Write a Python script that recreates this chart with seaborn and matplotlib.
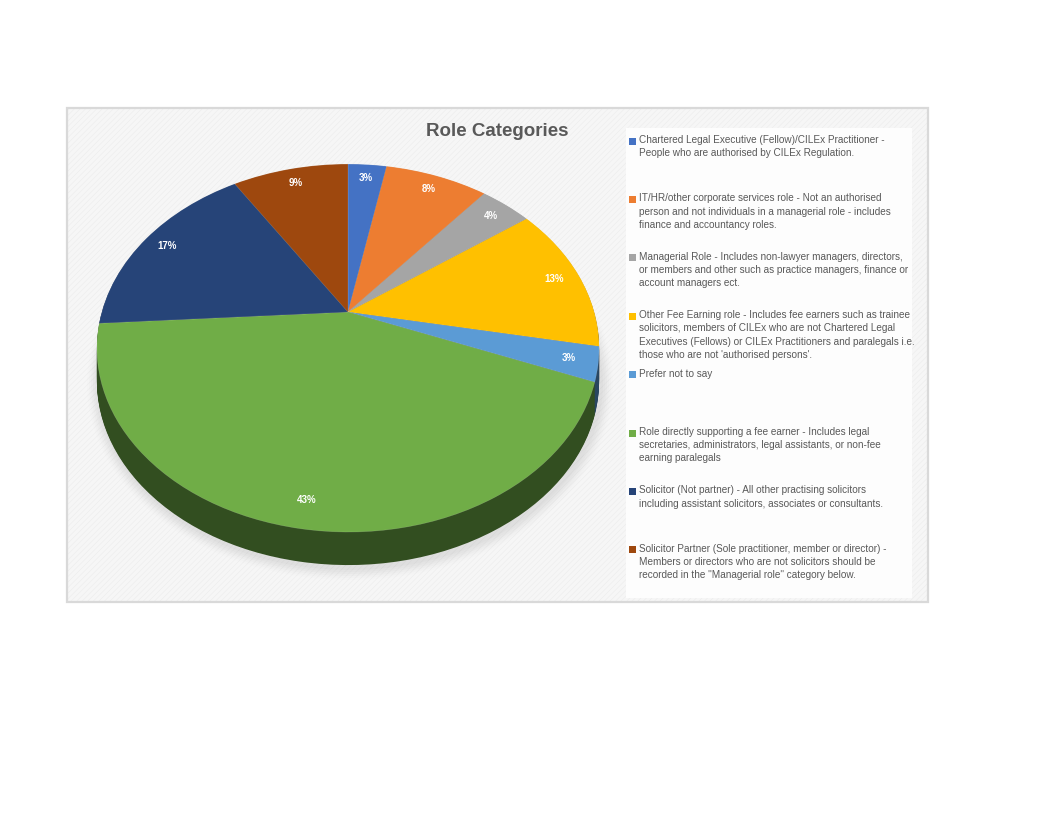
#!/usr/bin/env python3
"""
Role Categories - tilted (perspective) pie chart with wrapped legend
"""

import matplotlib
matplotlib.use("Agg")
import matplotlib.pyplot as plt
from matplotlib.patches import Rectangle, Ellipse
from matplotlib.transforms import Transform
import seaborn as sns
import numpy as np

# ---- data -----------------------------------------------------------------
categories = [
    "Chartered Legal Executive (Fellow)/CILEx Practitioner -\n"
    "People who are authorised by CILEx Regulation.",
    "IT/HR/other corporate services role - Not an authorised\n"
    "person and not individuals in a managerial role - includes\n"
    "finance and accountancy roles.",
    "Managerial Role - Includes non-lawyer managers, directors,\n"
    "or members and other such as practice managers, finance or\n"
    "account managers ect.",
    "Other Fee Earning role - Includes fee earners such as trainee\n"
    "solicitors, members of CILEx who are not Chartered Legal\n"
    "Executives (Fellows) or CILEx Practitioners and paralegals i.e.\n"
    "those who are not 'authorised persons'.",
    "Prefer not to say",
    "Role directly supporting a fee earner - Includes legal\n"
    "secretaries, administrators, legal assistants, or non-fee\n"
    "earning paralegals",
    "Solicitor (Not partner) - All other practising solicitors\n"
    "including assistant solicitors, associates or consultants.",
    "Solicitor Partner (Sole practitioner, member or director) -\n"
    "Members or directors who are not solicitors should be\n"
    "recorded in the \"Managerial role\" category below.",
]
shares = [3, 8, 4, 13, 3, 43, 17, 9]
slice_colors = ["#4472C4", "#ED7D31", "#A5A5A5", "#FFC000",
                "#5B9BD5", "#70AD47", "#264478", "#9E480E"]
title = "Role Categories"


class TiltView(Transform):
    """Projects the unit pie disc onto a tilted plane (simple perspective)."""
    input_dims = output_dims = 2
    is_separable = False
    has_inverse = False

    def __init__(self, cx, cy, a, b, k, drop=0.0):
        super().__init__()
        self.cx, self.cy, self.a, self.b, self.k, self.drop = cx, cy, a, b, k, drop

    def transform_non_affine(self, values):
        values = np.asarray(values, dtype=float).reshape(-1, 2)
        u, v = values[:, 0], values[:, 1]
        w = 1 + self.k * v
        return np.column_stack([self.cx + self.a * u / w,
                                self.cy - self.b * v / w + self.drop])


# ---- setup ----------------------------------------------------------------
sns.set_theme(style="white")
plt.rcParams['font.family'] = ['Liberation Sans', 'DejaVu Sans']
plt.rcParams['hatch.linewidth'] = 0.4

W, H = 1056, 816
fig = plt.figure(figsize=(W / 100, H / 100), dpi=100)
fig.patch.set_facecolor("white")


def px_box(x0, y0, x1, y1):
    """pixel box (top-left origin) -> figure fraction rect"""
    return [x0 / W, 1 - y1 / H, (x1 - x0) / W, (y1 - y0) / H]


# chart area background with faint diagonal texture
bx = px_box(67, 108, 928, 602)
fig.patches.append(Rectangle((bx[0], bx[1]), bx[2], bx[3], transform=fig.transFigure,
                             facecolor="#f6f6f6", edgecolor="#ececec", hatch="//////",
                             linewidth=0, zorder=-3))
fig.patches.append(Rectangle((bx[0], bx[1]), bx[2], bx[3], transform=fig.transFigure,
                             facecolor="none", edgecolor="#d9d9d9", linewidth=1.6, zorder=-2))
lb = px_box(626, 128, 912, 598)
fig.patches.append(Rectangle((lb[0], lb[1]), lb[2], lb[3], transform=fig.transFigure,
                             facecolor="#fdfdfd", edgecolor="none", zorder=-2))

# ---- pie ------------------------------------------------------------------
# axes in pixel units (top-left origin); the pie is projected into it
ax = fig.add_axes([0, 0, 1, 1])
ax.set_zorder(2)
ax.patch.set_visible(False)

apex_x, apex_y = 348, 312
k = 0.196
a, b = 246.2, 176.9
depth = 33

# soft shadow below the disc
for j, al in enumerate(np.linspace(0.05, 0.012, 6)):
    ax.add_patch(Ellipse((350, 348 + depth + 3), 506 + 4 * j, 372 + 4 * j,
                         facecolor="#7f7f7f", alpha=al, edgecolor="none", zorder=0))

# side wall built from stacked darker copies
dark = [tuple(np.array(matplotlib.colors.to_rgb(c)) * 0.45) for c in slice_colors]
for d in np.linspace(depth, 0.5, 34):
    side, _ = ax.pie(shares, colors=dark, startangle=90, counterclock=False,
                     radius=1, wedgeprops=dict(linewidth=0), frame=True)
    tr = TiltView(apex_x, apex_y, a, b, k, drop=d) + ax.transData
    for wdg in side:
        wdg.set_transform(tr)

wedges, _, autotexts = ax.pie(
    shares, colors=slice_colors, startangle=90, counterclock=False,
    radius=1, autopct="%1.0f%%", pctdistance=0.89,
    wedgeprops=dict(linewidth=0.4, edgecolor="#ffffff30"),
    textprops=dict(color="white", fontsize=7, fontweight="bold"),
    frame=True,
)
top_tr = TiltView(apex_x, apex_y, a, b, k) + ax.transData
for wdg in wedges:
    wdg.set_transform(top_tr)
for t in autotexts:
    t.set_transform(top_tr)

ax.set_autoscale_on(False)
ax.set_aspect("auto")
ax.set_xlim(0, W)
ax.set_ylim(H, 0)
ax.axis("off")

# ---- title ----------------------------------------------------------------
fig.text(497 / W, 1 - 132 / H, title, ha="center", va="center",
         fontsize=13.5, color="#595959", fontweight="semibold")

# ---- legend ---------------------------------------------------------------
top_px, step_px = 141, 58.4
for i, (lab, col) in enumerate(zip(categories, slice_colors)):
    ypx = top_px + i * step_px
    fig.patches.append(Rectangle((629 / W, 1 - (ypx + 3.5) / H), 7 / W, 7 / H,
                                 transform=fig.transFigure, facecolor=col,
                                 edgecolor="none", zorder=3))
    fig.text(639 / W, 1 - (ypx - 6) / H, lab, ha="left", va="top",
             fontsize=7.2, color="#595959", linespacing=1.4, zorder=3)

plt.savefig("out.png", dpi=100)
